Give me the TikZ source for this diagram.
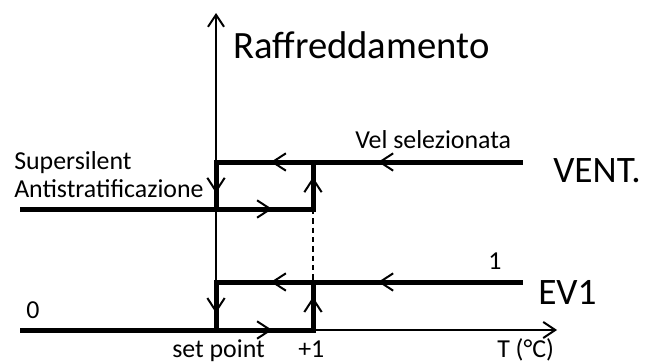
\documentclass[tikz,border=0pt]{standalone}
\usepackage{fontspec}
\setmainfont{Carlito}
\usetikzlibrary{arrows.meta,decorations.markings,positioning}
\tikzset{curve/.style={line width=3.75pt, line cap=rect}}
\tikzset{axis/.style={line width=1.5pt, -{Straight Barb[length=9pt,width=12pt]}}}
\tikzset{arrowat/.style={postaction={decorate, decoration={markings, mark=at position #1 with {\arrow[line width=1.5pt]{Straight Barb[length=10pt,width=13pt]}}}}}}
\tikzset{lbl/.style={inner sep=0pt, anchor=base west, font=\fontsize{19.4}{22}\selectfont}}
\tikzset{big/.style={inner sep=0pt, anchor=base west, font=\fontsize{28}{32}\selectfont}}

\begin{document}
\begin{tikzpicture}[x=0.75pt, y=-0.75pt]
  \useasboundingbox (0,0) rectangle (651,364);

  \coordinate (origin) at (216,330);
  \coordinate (y-end) at (216,13);
  \coordinate (x-end) at (557,330);

  \coordinate (vent-r) at (520,162);
  \coordinate (vent-tl) at (216,162);
  \coordinate (vent-ml) at (216,209);
  \coordinate (vent-l) at (22,209);
  \coordinate (vent-br) at (313,209);
  \coordinate (vent-tr) at (313,162);

  \coordinate (ev-r) at (520,282);
  \coordinate (ev-tl) at (216,282);
  \coordinate (ev-ml) at (216,330);
  \coordinate (ev-l) at (22,330);
  \coordinate (ev-br) at (313,330);
  \coordinate (ev-tr) at (313,282);

  \draw[axis] (origin) -- (y-end);
  \draw[axis] (origin) -- (x-end);
  \draw[line width=1pt, dash pattern=on 4pt off 3pt] (vent-br) -- (ev-tr);

  \draw[curve, arrowat=0.467, arrowat=0.82] (vent-r) -- (vent-tl);
  \draw[curve, arrowat=0.66] (vent-tl) -- (vent-ml);
  \draw[curve, arrowat=0.86] (vent-l) -- (vent-br);
  \draw[curve, arrowat=0.68] (vent-br) -- (vent-tr);

  \draw[curve, arrowat=0.467, arrowat=0.82] (ev-r) -- (ev-tl);
  \draw[curve, arrowat=0.65] (ev-tl) -- (ev-ml);
  \draw[curve, arrowat=0.86] (ev-l) -- (ev-br);
  \draw[curve, arrowat=0.69] (ev-br) -- (ev-tr);

  \node[big, font=\fontsize{29}{32}\selectfont] (title) at (233,58) {Raffreddamento};
  \node[big] (vent) at (553,182) {VENT.};
  \node[big] (ev1) at (538,304) {EV1};
  \node[lbl] (supersilent) at (14,169) {Supersilent};
  \node[lbl] (antistrat) at (14,197) {Antistratificazione};
  \node[lbl] (vel) at (355,148) {Vel selezionata};
  \node[lbl] (one) at (488,269) {1};
  \node[lbl] (zero) at (26,318) {0};
  \node[lbl] (setpoint) at (172,357) {set point};
  \node[lbl] (plusone) at (298,357) {+1};
  \node[lbl] (temp) at (497,357) {T (°C)};
\end{tikzpicture}
\end{document}
